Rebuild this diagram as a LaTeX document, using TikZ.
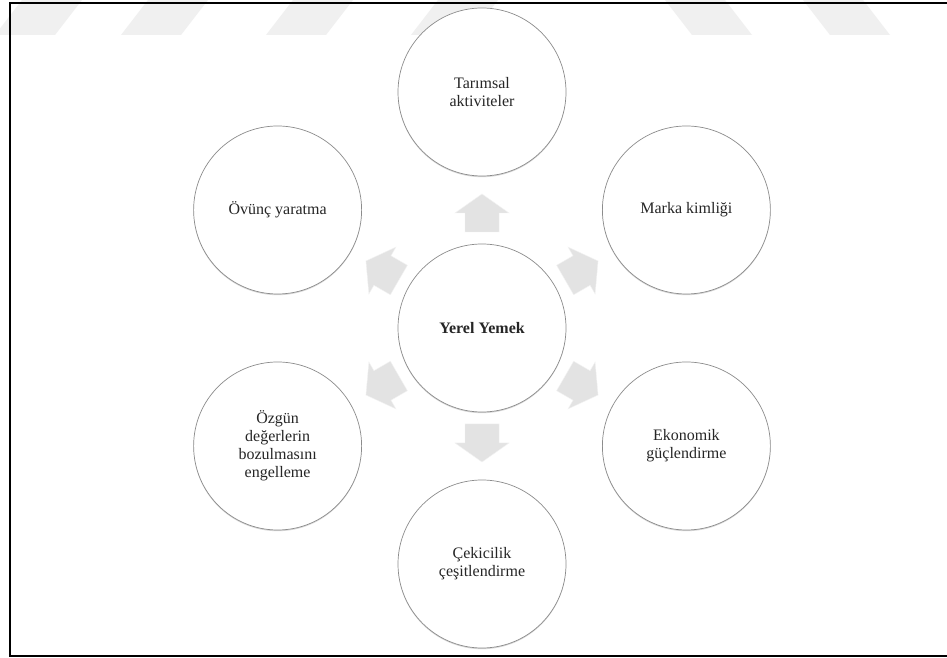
\documentclass[tikz,border=0pt]{standalone}
\usepackage{fontspec}
\setmainfont{Liberation Serif}
\usetikzlibrary{shadows}
\begin{document}
\begin{tikzpicture}[x=1pt,y=1pt,
  bubble/.style={circle, minimum size=168pt, inner sep=0pt, fill=white, draw=black!45, line width=0.7pt,
    align=center, font=\fontsize{16}{18}\selectfont, text=black!85,
    drop shadow={opacity=0.3, shadow xshift=0pt, shadow yshift=-1.2pt}},
  blockarrow/.style={fill=black!11, draw=black!5, line width=0.4pt},
  wm/.style={fill=black!6, draw=none},
  frameline/.style={draw=black, line width=1.6pt}]
\useasboundingbox (0,0) rectangle (947,658);
\fill[white] (0,0) rectangle (947,658);
% faint watermark at the top
\foreach \xb in {-5,121,266,411}
  \fill[wm] (\xb,623) -- (\xb+60,623) -- (\xb+87,658) -- (\xb+27,658) -- cycle;
\foreach \xt in {665,803}
  \fill[wm] (\xt,658) -- (\xt+60,658) -- (\xt+87,623) -- (\xt+27,623) -- cycle;
% frame
\draw[frameline] (947,655) -- (10,655) -- (10,2) -- (947,2);
% circles
\coordinate (C) at (482,330);
\node[bubble] (c0) at (C) {\textbf{Yerel Yemek}};
\node[bubble] (t)  at ([shift={(90:236)}]C)   {Tarımsal\\aktiviteler};
\node[bubble] (mk) at ([shift={(30:236)}]C)   {Marka kimliği};
\node[bubble] (ek) at ([shift={(-30:236)}]C)  {Ekonomik\\güçlendirme};
\node[bubble] (ck) at ([shift={(-90:236)}]C)  {Çekicilik\\çeşitlendirme};
\node[bubble] (oz) at ([shift={(-150:236)}]C) {Özgün\\değerlerin\\bozulmasını\\engelleme};
\node[bubble] (ov) at ([shift={(150:236)}]C)  {Övünç yaratma};
% block arrows pointing outward
\foreach \a in {90,30,-30,-90,-150,150}
  \filldraw[blockarrow, shift={(c0.center)}, rotate=\a]
    (96,-17) -- (115,-17) -- (115,-27) -- (134,0) -- (115,27) -- (115,17) -- (96,17) -- cycle;
\end{tikzpicture}
\end{document}
